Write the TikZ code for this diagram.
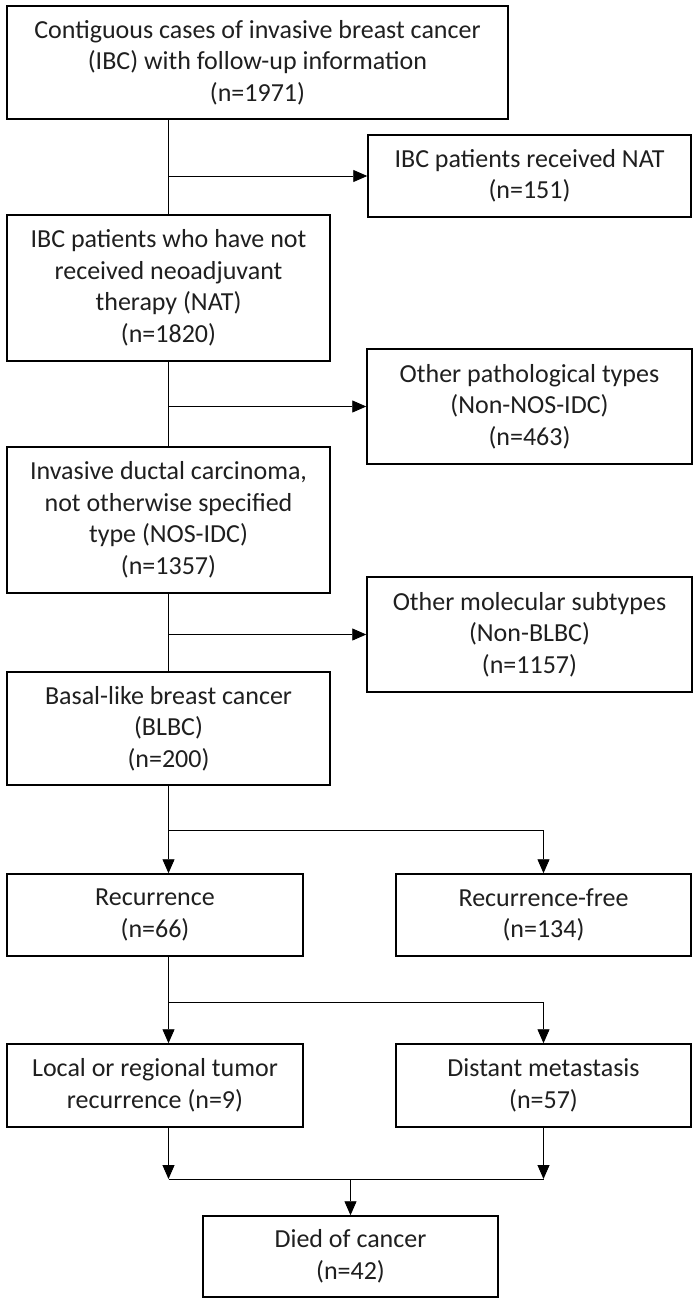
\documentclass[tikz,border=0pt]{standalone}
\usepackage{fontspec}
\setmainfont{Carlito}
\usetikzlibrary{arrows.meta,calc}
\begin{document}
\begin{tikzpicture}[x=1pt,y=-1pt,
  box/.style={draw=black, line width=1.5pt, inner sep=0pt, align=center, text=black!88,
    font=\fontsize{26}{31.5}\selectfont},
  conn/.style={line width=0.9pt, draw=black},
  arr/.style={conn, -{Triangle[length=14pt,width=12pt]}}]
\useasboundingbox (0,0) rectangle (699,1306);
\fill[white] (0,0) rectangle (699,1306);

\node[box, minimum width=501pt, minimum height=113pt] (top) at (257.5,62.5)
  {Contiguous cases of invasive breast cancer\\(IBC) with follow-up information\\(n=1971)};
\node[box, minimum width=323pt, minimum height=82pt] (nat) at (529.5,176)
  {IBC patients received NAT\\(n=151)};
\node[box, minimum width=323pt, minimum height=146pt] (b2) at (168.5,288)
  {IBC patients who have not\\received neoadjuvant\\therapy (NAT)\\(n=1820)};
\node[box, minimum width=325pt, minimum height=115pt] (nonnos) at (529.5,406.5)
  {Other pathological types\\(Non-NOS-IDC)\\(n=463)};
\node[box, minimum width=323pt, minimum height=146pt] (b3) at (168.5,520)
  {Invasive ductal carcinoma,\\not otherwise specified\\type (NOS-IDC)\\(n=1357)};
\node[box, minimum width=325pt, minimum height=115pt] (nonblbc) at (529.5,634.5)
  {Other molecular subtypes\\(Non-BLBC)\\(n=1157)};
\node[box, minimum width=323pt, minimum height=113pt] (b4) at (168.5,728.5)
  {Basal-like breast cancer\\(BLBC)\\(n=200)};
\node[box, minimum width=296pt, minimum height=82pt] (rec) at (155,915)
  {Recurrence\\(n=66)};
\node[box, minimum width=295pt, minimum height=82pt] (recfree) at (543.5,915)
  {Recurrence-free\\(n=134)};
\node[box, minimum width=296pt, minimum height=83pt] (local) at (155,1085.5)
  {Local or regional tumor\\recurrence (n=9)};
\node[box, minimum width=295pt, minimum height=83pt] (distant) at (543.5,1085.5)
  {Distant metastasis\\(n=57)};
\node[box, minimum width=295pt, minimum height=81pt] (died) at (350.5,1256.5)
  {Died of cancer\\(n=42)};

% top -> b2, branch to nat
\draw[conn] (b2.north |- top.south) -- (b2.north);
\draw[arr] (b2.north |- nat.west) -- (nat.west);
% b2 -> b3, branch to nonnos
\draw[conn] (b2.south) -- (b3.north);
\draw[arr] (b2.south |- nonnos.west) -- (nonnos.west);
% b3 -> b4, branch to nonblbc
\draw[conn] (b3.south) -- (b4.north);
\draw[arr] (b3.south |- nonblbc.west) -- (nonblbc.west);
% b4 -> rec / recfree
\coordinate (j1) at (168.5,830);
\draw[conn] (b4.south) -- (j1);
\draw[arr] (j1) -- (j1 |- rec.north);
\draw[arr] (j1) -| (recfree.north);
% rec -> local / distant
\coordinate (j2) at (168.5,1002);
\draw[conn] (rec.south -| j2) -- (j2);
\draw[arr] (j2) -- (j2 |- local.north);
\draw[arr] (j2) -| (distant.north);
% local, distant -> died
\coordinate (j3) at (168.5,1179);
\coordinate (j4) at (543.5,1179);
\draw[arr] (local.south -| j3) -- (j3);
\draw[arr] (distant.south) -- (j4);
\draw[conn] (j3) -- (j4);
\draw[arr] (died.north |- j3) -- (died.north);
\end{tikzpicture}
\end{document}
